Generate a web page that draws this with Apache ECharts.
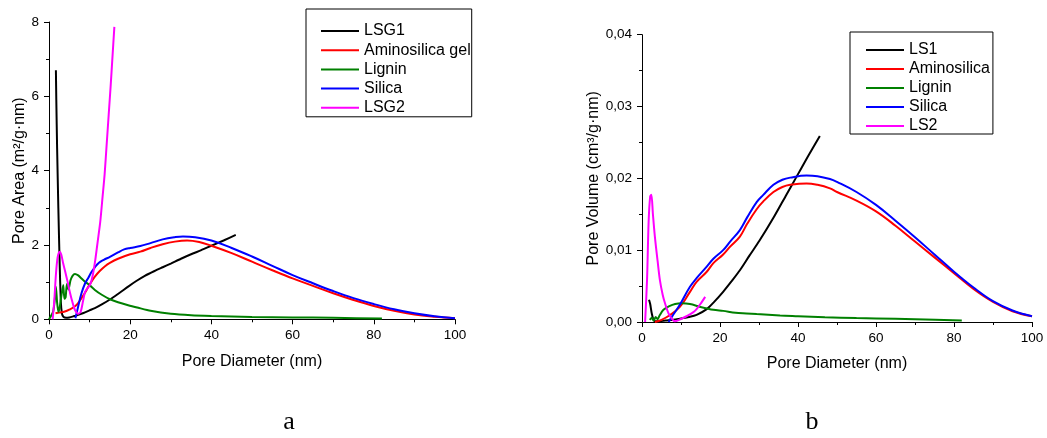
<!DOCTYPE html>
<html><head><meta charset="utf-8">
<script src="https://cdn.jsdelivr.net/npm/echarts@6/dist/echarts.min.js"></script>
<style>html,body{margin:0;padding:0;background:#fff}#c{width:1047px;height:438px}</style>
</head><body><div id="c"></div>
<script>
// ---- Panel a: Pore Area (m²/g·nm) vs Pore Diameter (nm) ----
const areaLSG1 = [[1.7,6.7],[1.8,5.9],[2.0,4.6],[2.3,3.0],[2.6,1.6],[2.9,0.5],[3.2,0.15],[3.6,0.06],[4.2,0.04],[5,0.05],[6,0.08],[7.2,0.12],[8.5,0.17],[10,0.24],[11.3,0.3],[13,0.4],[15.4,0.56],[17.5,0.72],[19.5,0.88],[21.5,1.03],[23.6,1.17],[26,1.3],[28,1.4],[30,1.5],[32.5,1.63],[35,1.75],[37.5,1.86],[40,1.98],[43,2.12],[46,2.27]];
const areaAminosilica = [[1.6,0.16],[2.5,0.18],[3.9,0.21],[5,0.26],[6.4,0.35],[7.2,0.44],[8,0.57],[8.9,0.72],[9.7,0.88],[10.5,1.02],[11.3,1.15],[12.5,1.3],[13.8,1.43],[15,1.52],[17,1.63],[20,1.75],[22.5,1.82],[25,1.92],[28,2.02],[31,2.09],[34,2.12],[37,2.08],[40,1.98],[45,1.78],[50,1.55],[55,1.32],[60,1.1],[65,0.9],[70,0.7],[75,0.52],[80,0.36],[85,0.23],[90,0.13],[95,0.07],[100,0.03]];
const areaLignin = [[0,0],[1.0,0.2],[1.4,0.5],[1.7,0.88],[2.0,0.45],[2.3,0.2],[2.6,0.3],[3.0,0.6],[3.5,0.92],[3.8,0.55],[4.1,0.6],[4.4,0.95],[4.8,0.8],[5.3,1.05],[5.8,1.17],[6.4,1.22],[7.2,1.18],[8,1.1],[8.9,1.01],[10,0.92],[11.3,0.79],[13,0.66],[15,0.54],[17,0.46],[19.5,0.38],[22,0.31],[25,0.23],[30,0.15],[35,0.11],[40,0.09],[50,0.06],[60,0.05],[70,0.04],[82,0.02]];
const areaSilica = [[6.5,0.03],[7.2,0.35],[8,0.7],[8.9,0.97],[9.7,1.12],[10.5,1.28],[11.3,1.4],[12.3,1.52],[13.5,1.6],[15,1.68],[17,1.8],[18.5,1.88],[20,1.92],[22.5,1.97],[25,2.05],[28,2.15],[31,2.21],[33,2.23],[36,2.21],[40,2.12],[45,1.92],[50,1.69],[55,1.44],[60,1.19],[65,0.97],[70,0.76],[75,0.57],[80,0.41],[85,0.27],[90,0.16],[95,0.08],[100,0.03]];
const areaLSG2 = [[0.9,0],[1.3,0.5],[1.7,1.2],[2.1,1.65],[2.6,1.82],[3.0,1.75],[3.5,1.5],[4.0,1.28],[4.6,1.0],[5.2,0.7],[5.8,0.45],[6.4,0.25],[7.2,0.15],[7.8,0.2],[8.4,0.5],[8.9,0.74],[9.6,0.85],[10.2,0.95],[10.8,1.2],[11.4,1.6],[12.0,2.1],[12.6,2.6],[13.2,3.3],[13.7,3.9],[14.2,4.7],[14.7,5.5],[15.2,6.3],[15.6,7.0],[16.1,7.87]];

// ---- Panel b: Pore Volume (cm³/g·nm) vs Pore Diameter (nm) ----
const volLS1 = [[1.8,0.0031],[2.1,0.0025],[2.5,0.0012],[2.9,0.0004],[3.4,0.0001],[4.5,0.0001],[6,0.0002],[8,0.0003],[10,0.0005],[12,0.0007],[14,0.001],[16.6,0.0018],[18.5,0.0028],[20.8,0.0042],[23,0.0057],[25.1,0.0072],[27.5,0.0092],[30.1,0.0113],[33.7,0.0145],[37.1,0.0178],[39.5,0.0201],[42.5,0.023],[45.6,0.0259]];
const volAminosilica = [[3.3,0],[5,0.0003],[7,0.0009],[9.7,0.0021],[12.3,0.0042],[14,0.0056],[16.6,0.007],[18.3,0.0082],[20.8,0.0094],[22.6,0.0105],[25.1,0.0119],[27,0.0137],[29.4,0.0157],[31.1,0.0168],[33.7,0.0181],[36,0.0188],[38,0.0191],[42.2,0.0193],[45,0.0191],[48.2,0.0186],[50,0.0181],[55,0.0169],[60,0.0154],[65,0.0134],[70,0.0112],[75,0.009],[80,0.0068],[85,0.0046],[90,0.0028],[95,0.0015],[100,0.0008]];
const volLignin = [[2,0.0003],[2.5,0.0006],[3,0.0002],[3.5,0.0007],[4,0.0004],[4.5,0.0009],[5.5,0.0017],[7,0.0022],[8.5,0.0025],[10.2,0.0026],[12.3,0.0025],[15,0.0021],[18.3,0.0017],[20.8,0.00155],[24,0.0013],[26.8,0.0012],[29.4,0.0011],[35.4,0.0009],[40,0.0008],[46.9,0.00065],[55,0.00055],[60,0.0005],[70,0.0004],[82,0.0002]];
const volSilica = [[6.8,0],[8,0.001],[9.7,0.0024],[12.3,0.0049],[14,0.0061],[16.6,0.0077],[18.3,0.0088],[20.8,0.01],[22.6,0.0112],[25.1,0.0128],[27,0.0146],[29.4,0.0167],[31.1,0.0177],[33.7,0.0191],[36,0.0198],[38,0.0201],[42.2,0.0204],[45,0.0203],[48.2,0.0199],[50,0.0195],[55,0.0181],[60,0.0163],[65,0.0141],[70,0.0118],[75,0.0094],[80,0.007],[85,0.0048],[90,0.0029],[95,0.0016],[100,0.0008]];
const volLS2 = [[0.8,0],[1.3,0.006],[1.7,0.014],[2.1,0.0175],[2.4,0.0177],[2.8,0.015],[3.3,0.0119],[4,0.0085],[4.6,0.0058],[5.3,0.0038],[5.9,0.0026],[6.8,0.0012],[7.6,0.0005],[8.4,0.0001],[9.5,0.0003],[11.4,0.0008],[13,0.0013],[14,0.0018],[15.1,0.0026],[16.2,0.0035]];

const namesA = ['LSG1','Aminosilica gel','Lignin','Silica','LSG2'];
const namesB = ['LS1','Aminosilica','Lignin','Silica','LS2'];
const colors = ['#000000','#ff0000','#008000','#0000ff','#ff00ff'];
const xTitle = 'Pore Diameter (nm)';
const yTitleA = 'Pore Area (m²/g·nm)';
const yTitleB = 'Pore Volume (cm³/g·nm)';
const panelLabels = ['a','b'];

const FONT = 'Liberation Sans';
function xAxisCfg(idx){
  return {gridIndex: idx, type:'value', min:0, max:100, interval:20,
    name: xTitle, nameLocation:'middle', nameGap:34,
    nameTextStyle:{fontSize:16, color:'#000', fontFamily:FONT},
    axisLine:{show:true, onZero:false, lineStyle:{color:'#000', width:1}},
    axisTick:{show:true, length:5, lineStyle:{color:'#000'}},
    minorTick:{show:true, splitNumber:2, length:3, lineStyle:{color:'#000'}},
    splitLine:{show:false},
    axisLabel:{color:'#000', fontSize:13.5, fontFamily:FONT, margin:9, showMaxLabel:true}};
}
function yAxisCfg(idx, max, interval, name, gap, fmt){
  return {gridIndex: idx, type:'value', min:0, max:max, interval:interval,
    name: name, nameLocation:'middle', nameGap:gap, nameRotate:90,
    nameTextStyle:{fontSize:16, color:'#000', fontFamily:FONT},
    axisLine:{show:true, lineStyle:{color:'#000', width:1}},
    axisTick:{show:true, length:5, lineStyle:{color:'#000'}},
    minorTick:{show:true, splitNumber:2, length:3, lineStyle:{color:'#000'}},
    splitLine:{show:false},
    axisLabel:{color:'#000', fontSize:13.5, fontFamily:FONT, margin:10, formatter: fmt}};
}
function mk(name, data, color, idx, smooth){
  return {name, type:'line', data, xAxisIndex:idx, yAxisIndex:idx, symbol:'none',
    smooth: smooth, lineStyle:{color, width:2}, itemStyle:{color}, animation:false};
}
const seriesA = [areaLSG1, areaAminosilica, areaLignin, areaSilica, areaLSG2];
const seriesB = [volLS1, volAminosilica, volLignin, volSilica, volLS2];
const smoothA = [0.2, 0.4, 0.2, 0.4, 0.25];
const smoothB = [0.3, 0.4, 0.3, 0.4, 0.3];
const series = [];
seriesA.forEach((d,i)=>series.push(mk(namesA[i], d, colors[i], 0, smoothA[i])));
seriesB.forEach((d,i)=>series.push(mk(namesB[i], d, colors[i], 1, smoothB[i])));

const legendCommon = {orient:'vertical', itemWidth:38, itemHeight:14, borderColor:'#000', borderWidth:1,
  itemStyle:{opacity:0}, lineStyle:{width:2},
  textStyle:{fontSize:16, color:'#000', fontFamily:FONT, lineHeight:16}, selectedMode:false};

const option = {
  backgroundColor:'#fff',
  animation:false,
  grid:[{left:49, top:22, width:406, height:297.3},{left:642, top:34.7, width:390, height:287.3}],
  xAxis:[xAxisCfg(0), xAxisCfg(1)],
  yAxis:[yAxisCfg(0, 8, 2, yTitleA, 20, v=>String(v)),
         yAxisCfg(1, 0.04, 0.01, yTitleB, 31, v=>v.toFixed(2).replace('.', ','))],
  legend:[Object.assign({}, legendCommon, {data:namesA, left:306, top:9, itemGap:3.2, padding:[14,1,1,14]}),
          Object.assign({}, legendCommon, {data:namesB, left:850, top:32, itemGap:3, padding:[10,3,0,15]})],
  graphic:[
    {type:'text', x:289, y:422, style:{text:panelLabels[0], font:'26px "Liberation Serif"', fill:'#000', align:'center', verticalAlign:'middle'}},
    {type:'text', x:812, y:422, style:{text:panelLabels[1], font:'26px "Liberation Serif"', fill:'#000', align:'center', verticalAlign:'middle'}}
  ],
  series
};
const chart = echarts.init(document.getElementById('c'), null, {renderer:'canvas'});
chart.setOption(option);
</script></body></html>
